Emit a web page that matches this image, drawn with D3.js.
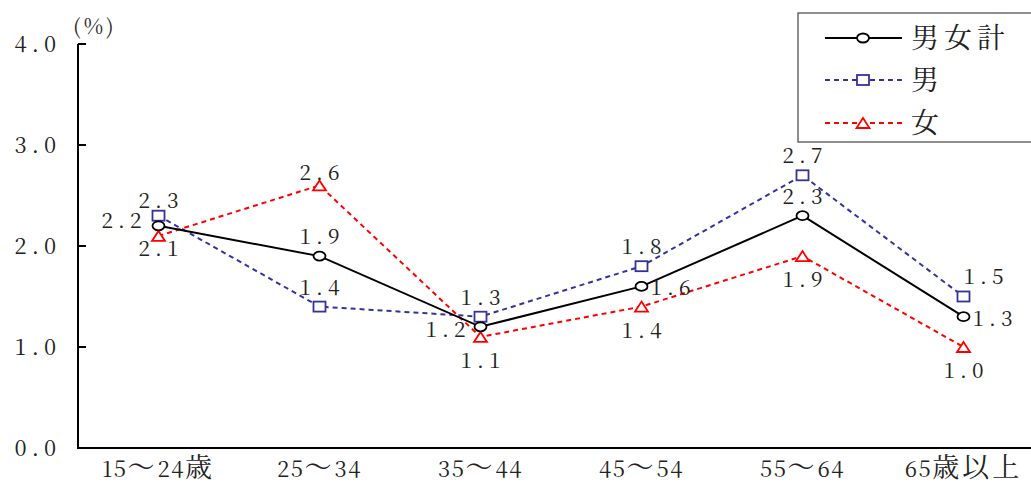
<!DOCTYPE html>
<html>
<head>
<meta charset="utf-8">
<script src="https://d3js.org/d3.v7.min.js"></script>
<style>
  body { margin: 0; background: #fff; }
</style>
</head>
<body>
<svg width="1031" height="486"></svg>
<script>
// data
var categories = ["15～24歳", "25～34", "35～44", "45～54", "55～64", "65歳以上"];
var total = [2.2, 1.9, 1.2, 1.6, 2.3, 1.3];
var male = [2.3, 1.4, 1.3, 1.8, 2.7, 1.5];
var female = [2.1, 2.6, 1.1, 1.4, 1.9, 1.0];
var yTicks = [0, 1, 2, 3, 4];

// where each value label sits next to its point
var totalPos = ["leftHigh", "above", "left", "right", "above", "right"];
var malePos = ["aboveNear", "above", "above", "above", "above", "aboveRight"];
var femalePos = ["belowNear", "aboveClose", "below", "below", "below", "below"];

var FONT = "'Noto Serif CJK JP', serif";
var svg = d3.select("svg");
var plotLeft = 78, plotTop = 44, plotBottom = 448;

var x = d3.scaleBand().domain(categories).range([plotLeft, plotLeft + 6 * 161]);
var y = d3.scaleLinear().domain([0, 4]).range([plotBottom, plotTop]);
function cx(i) { return x(categories[i]) + x.bandwidth() / 2; }
function fmt(v) { return v.toFixed(1); }

// axes
svg.append("line").attr("x1", plotLeft).attr("x2", plotLeft).attr("y1", plotTop).attr("y2", plotBottom)
  .attr("stroke", "#000").attr("stroke-width", 2);
svg.append("line").attr("x1", plotLeft - 1).attr("x2", 1031).attr("y1", plotBottom).attr("y2", plotBottom)
  .attr("stroke", "#000").attr("stroke-width", 2);

svg.selectAll(".ytick").data(yTicks).enter().append("line")
  .attr("x1", plotLeft).attr("x2", plotLeft + 8)
  .attr("y1", function(d) { return y(d); }).attr("y2", function(d) { return y(d); })
  .attr("stroke", "#000").attr("stroke-width", 2);

svg.selectAll(".ylab").data(yTicks).enter().append("text")
  .attr("x", 61).attr("y", function(d) { return y(d) + 8; })
  .attr("text-anchor", "end").attr("font-family", FONT).attr("font-size", 22)
  .attr("letter-spacing", 5).attr("fill", "#222")
  .text(function(d) { return fmt(d); });

svg.append("text").attr("x", 73).attr("y", 34).attr("font-family", FONT)
  .attr("font-size", 21).attr("letter-spacing", 3).attr("fill", "#222").text("(%)");

// category labels: latin digits smaller than the kanji, as in the original
svg.selectAll(".xlab").data(categories).enter().append("text")
  .attr("x", function(d, i) { return cx(i); }).attr("y", 477)
  .attr("text-anchor", "middle").attr("font-family", FONT).attr("fill", "#222")
  .each(function(d) {
    var t = d3.select(this);
    (d.match(/[\x00-\x7f]+|[^\x00-\x7f]+/g) || []).forEach(function(run) {
      var ascii = /^[\x00-\x7f]/.test(run);
      t.append("tspan").attr("font-size", ascii ? 22 : 27)
        .attr("letter-spacing", ascii ? 1.5 : 3).text(run);
    });
  });

var line = d3.line().x(function(d, i) { return cx(i); }).y(function(d) { return y(d); });

var series = [
  { name: "男女計", values: total, pos: totalPos, color: "#000", dash: null, shape: "circle" },
  { name: "男", values: male, pos: malePos, color: "#333399", dash: "5,4", shape: "square" },
  { name: "女", values: female, pos: femalePos, color: "#ff0000", dash: "5,4", shape: "triangle" }
];

function marker(g, s, px, py) {
  if (s.shape === "circle") {
    g.append("ellipse").attr("cx", px).attr("cy", py).attr("rx", 6).attr("ry", 4.5)
      .attr("fill", "#fff").attr("stroke", s.color).attr("stroke-width", 1.8);
  } else if (s.shape === "square") {
    g.append("rect").attr("x", px - 6).attr("y", py - 5).attr("width", 12).attr("height", 10)
      .attr("fill", "#fff").attr("stroke", s.color).attr("stroke-width", 1.8);
  } else {
    g.append("path").attr("d", "M" + px + "," + (py - 5) + "L" + (px + 6.5) + "," + (py + 5) + "L" + (px - 6.5) + "," + (py + 5) + "Z")
      .attr("fill", "#fff").attr("stroke", s.color).attr("stroke-width", 1.8);
  }
}

// lines, then markers; total drawn last so it sits on top
[2, 1, 0].forEach(function(k) {
  var s = series[k];
  svg.append("path").datum(s.values).attr("d", line)
    .attr("fill", "none").attr("stroke", s.color).attr("stroke-width", 2)
    .attr("stroke-dasharray", s.dash);
});
[2, 1, 0].forEach(function(k) {
  var s = series[k];
  var g = svg.append("g");
  s.values.forEach(function(v, i) { marker(g, s, cx(i), y(v)); });
});

// value labels
var place = {
  above: [0, -12, "middle"], aboveNear: [0, -8, "middle"], aboveClose: [0, -5, "middle"],
  aboveRight: [20, -13, "middle"],
  below: [0, 31, "middle"], belowNear: [0, 20, "middle"],
  left: [-15, 10, "end"], leftHigh: [-17, 2, "end"],
  right: [9, 9, "start"]
};
series.forEach(function(s) {
  s.values.forEach(function(v, i) {
    var p = place[s.pos[i]];
    var shift = p[2] === "middle" ? 2.5 : (p[2] === "end" ? 5 : 0);
    svg.append("text").attr("x", cx(i) + p[0] + shift).attr("y", y(v) + p[1])
      .attr("text-anchor", p[2]).attr("font-family", FONT).attr("font-size", 21)
      .attr("letter-spacing", 5).attr("fill", "#222").text(fmt(v));
  });
});

// legend
svg.append("rect").attr("x", 798).attr("y", 13).attr("width", 240).attr("height", 129)
  .attr("fill", "#fff").attr("stroke", "#444").attr("stroke-width", 1.2);
var legY = [38, 80, 123];
series.forEach(function(s, k) {
  var g = svg.append("g");
  g.append("line").attr("x1", 825).attr("x2", 902).attr("y1", legY[k]).attr("y2", legY[k])
    .attr("stroke", s.color).attr("stroke-width", 2).attr("stroke-dasharray", s.dash);
  marker(g, s, 863, legY[k]);
  g.append("text").attr("x", 911).attr("y", legY[k] + 10).attr("font-size", 28)
    .attr("font-family", FONT).attr("letter-spacing", 5).attr("fill", "#222")
    .text(s.name);
});
</script>
</body>
</html>
